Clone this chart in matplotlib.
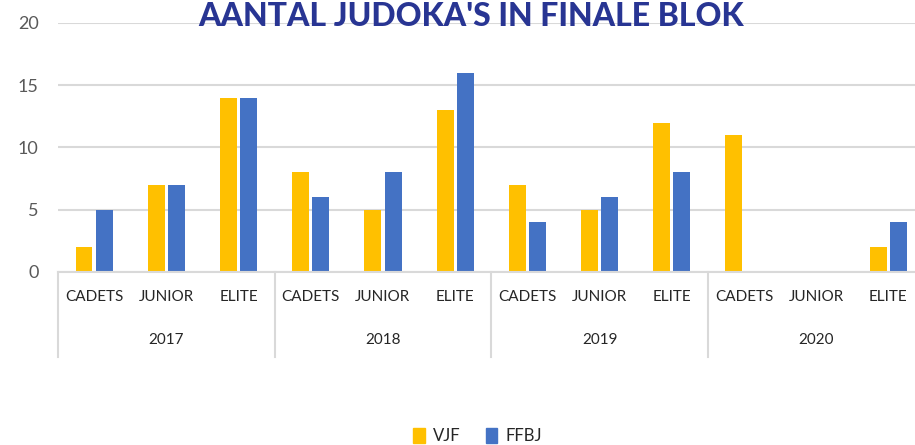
import matplotlib.pyplot as plt
import matplotlib.patches as mpatches
import numpy as np

years = ["2017", "2018", "2019", "2020"]
levels = ["CADETS", "JUNIOR", "ELITE"]
vjf = [2, 7, 14, 8, 5, 13, 7, 5, 12, 11, 0, 2]
ffbj = [5, 7, 14, 6, 8, 16, 4, 6, 8, 0, 0, 4]

yellow = "#FFC000"
blue = "#4472C4"
grid = "#D9D9D9"

plt.rcParams["font.family"] = ["Lato", "DejaVu Sans"]

fig = plt.figure(figsize=(9.15, 4.45), dpi=100)
ax = fig.add_axes([0.0634, 0.3888, 0.947, 0.5596])

x = np.arange(len(vjf))
ax.bar(x - 0.14, vjf, width=0.235, color=yellow, label="VJF")
ax.bar(x + 0.14, ffbj, width=0.235, color=blue, label="FFBJ")

ax.set_xlim(-0.5, len(vjf) - 0.5)
ax.set_ylim(0, 20)
ax.set_yticks([0, 5, 10, 15, 20])
ax.tick_params(axis="y", length=0, pad=14, labelsize=13, labelcolor="#595959")
ax.yaxis.grid(True, color=grid, linewidth=1.5)
ax.set_axisbelow(True)
ax.set_xticks([])
for s in ["top", "right", "left"]:
    ax.spines[s].set_visible(False)
ax.spines["bottom"].set_color(grid)
ax.spines["bottom"].set_linewidth(1.5)

# two-level category axis: level names, then years, with group dividers
tr = ax.get_xaxis_transform()
for i in range(len(vjf)):
    ax.text(i, -0.1, levels[i % 3], transform=tr, ha="center", va="center",
            fontsize=11, color="#262626")
for j, yr in enumerate(years):
    ax.text(j * 3 + 1, -0.273, yr, transform=tr, ha="center", va="center",
            fontsize=11, color="#262626")
for j in range(len(years) + 1):
    ax.plot([j * 3 - 0.5, j * 3 - 0.5], [0, -0.341], transform=tr,
            color=grid, linewidth=1.5, clip_on=False)

fig.text(0.515, 0.962, "AANTAL JUDOKA'S IN FINALE BLOK", ha="center", va="center",
         fontsize=23, fontweight="black", color="#283593")

handles = [mpatches.Patch(color=yellow, label="VJF"),
           mpatches.Patch(color=blue, label="FFBJ")]
fig.legend(handles=handles, loc="center", bbox_to_anchor=(0.522, 0.02), ncol=2,
           frameon=False, fontsize=12, handlelength=0.7, handleheight=1.0,
           handletextpad=0.5, columnspacing=1.5, labelcolor="#262626")

fig.savefig("out.png", dpi=100)
plt.close(fig)
